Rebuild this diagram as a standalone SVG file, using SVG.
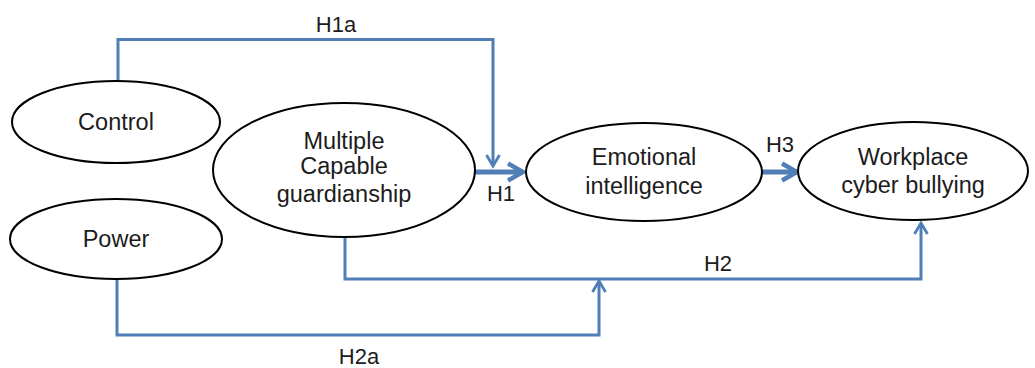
<svg xmlns="http://www.w3.org/2000/svg" width="1035" height="368" viewBox="0 0 1035 368">
<style>
.node ellipse{fill:#fff;stroke:#000;stroke-width:2}
text{font-family:"Liberation Sans",Arial,sans-serif;font-size:22px;fill:#1c1c1c;text-anchor:middle}
.node text{font-size:23.5px}
.conn path{fill:none;stroke:#4f7fb6;stroke-width:3;stroke-linejoin:miter}
.conn .thick{stroke-width:5}
</style>
<defs>
<marker id="v" markerUnits="userSpaceOnUse" viewBox="0 0 16 16" markerWidth="16" markerHeight="16" refX="13" refY="8" orient="auto">
<path d="M2,1.5 L13,8 L2,14.5" fill="none" stroke="#4f7fb6" stroke-width="2.8" stroke-linejoin="miter"/>
</marker>
<marker id="vb" markerUnits="userSpaceOnUse" viewBox="0 0 22 22" markerWidth="22" markerHeight="22" refX="18" refY="11" orient="auto">
<path d="M3,2.5 L18,11 L3,19.5" fill="none" stroke="#4f7fb6" stroke-width="4.5" stroke-linejoin="miter"/>
</marker>
</defs>
<g class="conn" id="connectors">
<path d="M118,82 V39.5 H493 V166" marker-end="url(#v)"/>
<path class="thick" d="M475,172 H523" marker-end="url(#vb)"/>
<path class="thick" d="M762,172 H797" marker-end="url(#vb)"/>
<path d="M345,237 V279 H921 V223" marker-end="url(#v)"/>
<path d="M117,279 V335 H599 V281" marker-end="url(#v)"/>
<text x="336" y="32">H1a</text>
<text x="501" y="201">H1</text>
<text x="780" y="152">H3</text>
<text x="718" y="271">H2</text>
<text x="359" y="364">H2a</text>
</g>
<g class="node" id="control">
<ellipse cx="116" cy="122" rx="104" ry="41"/>
<text x="116" y="130">Control</text>
</g>
<g class="node" id="power">
<ellipse cx="116" cy="239" rx="106" ry="40"/>
<text x="116" y="247">Power</text>
</g>
<g class="node" id="guardianship">
<ellipse cx="344" cy="170" rx="131" ry="67"/>
<text x="344" y="149">Multiple</text>
<text x="344" y="174">Capable</text>
<text x="344" y="202">guardianship</text>
</g>
<g class="node" id="emotional">
<ellipse cx="644" cy="172" rx="118" ry="49"/>
<text x="644" y="165">Emotional</text>
<text x="644" y="194">intelligence</text>
</g>
<g class="node" id="bullying">
<ellipse cx="913" cy="171" rx="115" ry="49"/>
<text x="913" y="165">Workplace</text>
<text x="913" y="193">cyber bullying</text>
</g>
</svg>
